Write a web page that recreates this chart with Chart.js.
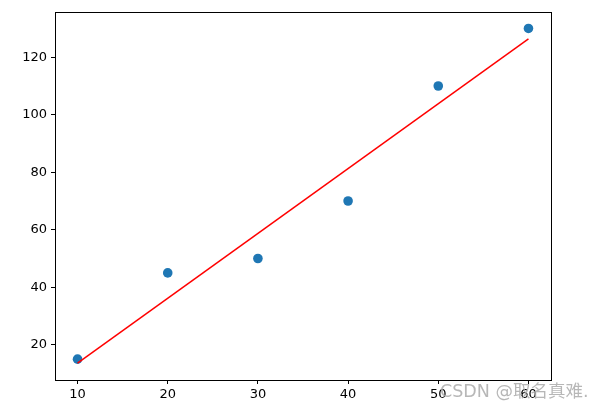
<!DOCTYPE html>
<html>
<head>
<meta charset="utf-8">
<script src="https://cdn.jsdelivr.net/npm/chart.js@4.4.1/dist/chart.umd.min.js"></script>
<style>
  html, body { margin: 0; padding: 0; background: #fff; }
  #wrap { width: 606px; height: 410px; }
</style>
</head>
<body>
<div id="wrap"><canvas id="fitchart" width="606" height="410"></canvas></div>
<script>
// scatter points
const xs = [10, 20, 30, 40, 50, 60];
const ys = [15, 45, 50, 70, 110, 130];
// fitted line ends
const lineX = [10, 60];
const lineY = [13.6, 126.4];
// tick labels
const xTicks = [10, 20, 30, 40, 50, 60];
const yTicks = [20, 40, 60, 80, 100, 120];

const tickFont = { family: "'DejaVu Sans', sans-serif", size: 13 };

// box round the plot + watermark
const framePlugin = {
  id: 'frame',
  afterDraw: function (chart) {
    "use strict";
    const ctx = chart.ctx;
    const a = chart.chartArea;
    ctx.save();
    ctx.strokeStyle = '#000';
    ctx.lineWidth = 1;
    ctx.strokeRect(Math.round(a.left) + 0.5, Math.round(a.top) + 0.5,
      Math.round(a.right - a.left), Math.round(a.bottom - a.top));
    ctx.font = "17.5px 'DejaVu Sans', 'Noto Sans CJK SC', sans-serif";
    ctx.fillStyle = 'rgba(170,170,170,0.85)';
    ctx.textBaseline = 'middle';
    ctx.fillText('CSDN @取名真难.', 440, 392);
    ctx.restore();
  }
};

const config = {
  type: 'scatter',
  data: {
    datasets: [
      {
        label: 'points',
        data: xs.map((x, i) => ({ x: x, y: ys[i] })),
        backgroundColor: '#1f77b4',
        borderColor: '#1f77b4',
        borderWidth: 0,
        pointRadius: 4.8,
        order: 2
      },
      {
        type: 'line',
        label: 'fit',
        data: lineX.map((x, i) => ({ x: x, y: lineY[i] })),
        borderColor: '#ff0000',
        borderWidth: 1.5,
        pointRadius: 0,
        fill: false,
        order: 1
      }
    ]
  },
  options: {
    responsive: false,
    animation: false,
    layout: { padding: { top: 11, right: 55, left: 0, bottom: 0 } },
    plugins: {
      legend: { display: false },
      tooltip: { enabled: false }
    },
    scales: {
      x: {
        type: 'linear',
        min: 7.5,
        max: 62.5,
        afterBuildTicks: function (scale) { scale.ticks = xTicks.map(v => ({ value: v })); },
        afterFit: function (scale) { scale.height = 30; },
        grid: { drawOnChartArea: false, drawTicks: true, tickLength: 4, color: '#000' },
        border: { display: false },
        ticks: { color: '#000', font: tickFont, padding: 3, maxRotation: 0 }
      },
      y: {
        type: 'linear',
        min: 7.75,
        max: 135.8,
        afterBuildTicks: function (scale) { scale.ticks = yTicks.map(v => ({ value: v })); },
        afterFit: function (scale) { scale.width = 55; },
        grid: { drawOnChartArea: false, drawTicks: true, tickLength: 4, color: '#000' },
        border: { display: false },
        ticks: { color: '#000', font: tickFont, padding: 4 }
      }
    }
  },
  plugins: [framePlugin]
};

const fitchart = new Chart(document.getElementById('fitchart'), config);
</script>
</body>
</html>
